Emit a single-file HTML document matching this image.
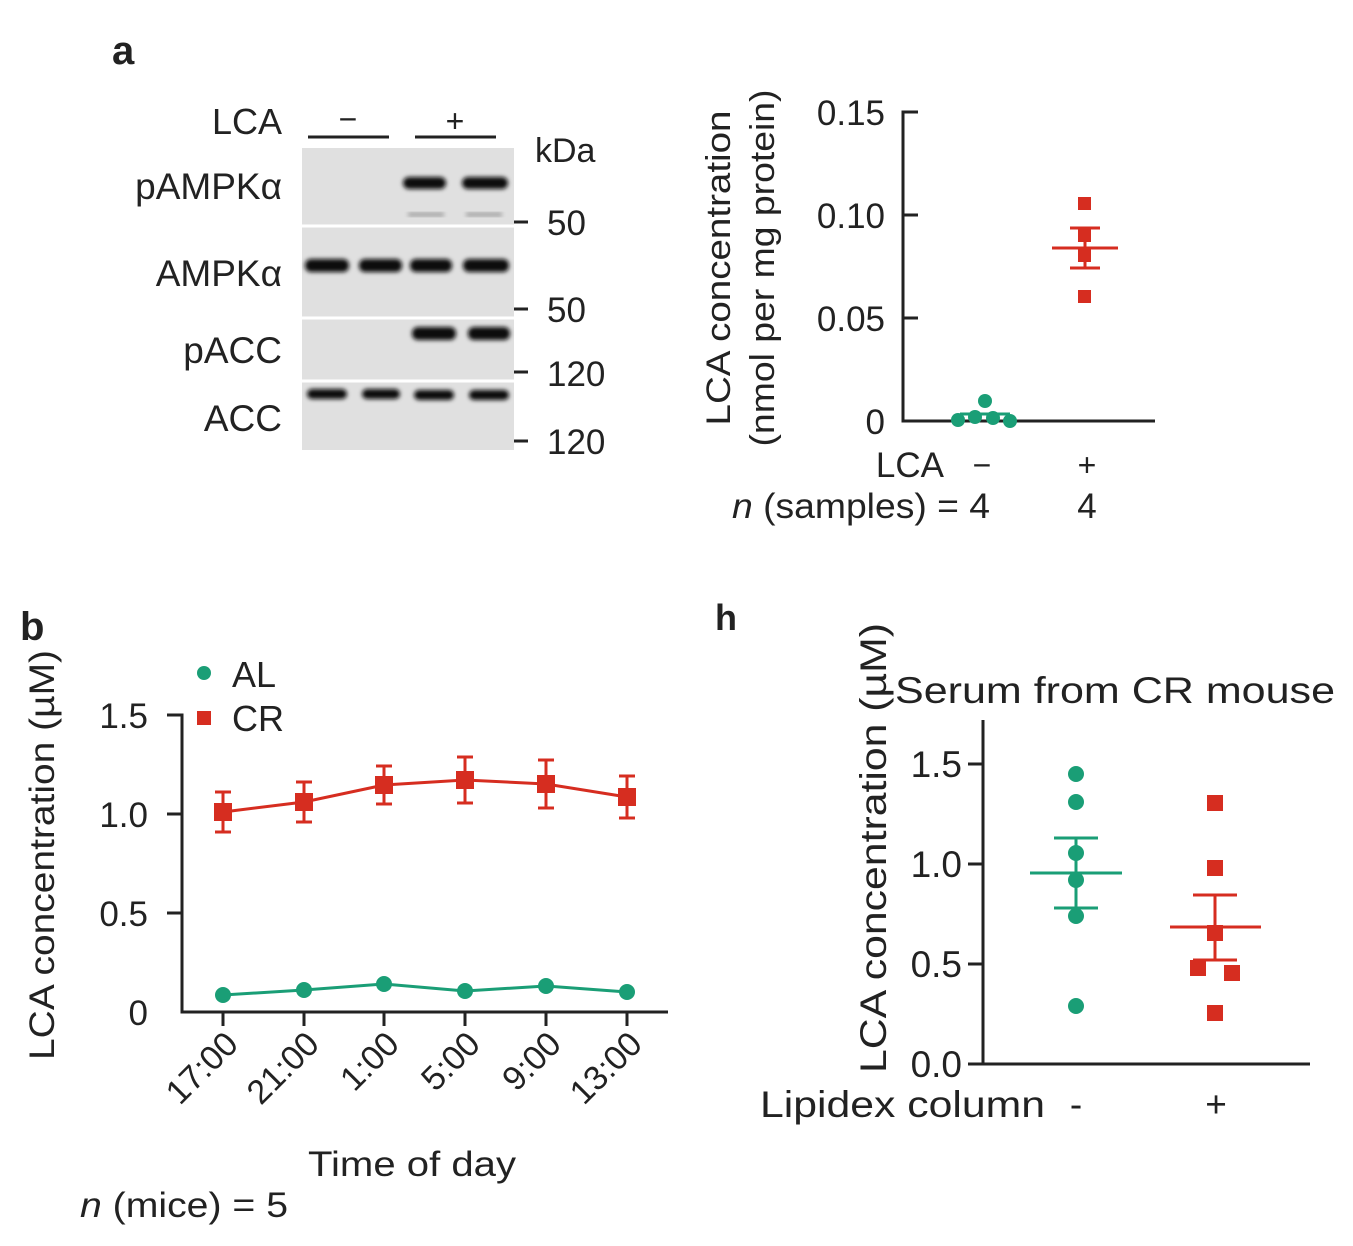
<!DOCTYPE html>
<html><head><meta charset="utf-8"><style>
body{margin:0;background:#fff}
svg text{font-family:"Liberation Sans",sans-serif;fill:#222}
</style></head><body>
<svg width="1353" height="1241" viewBox="0 0 1353 1241" xmlns="http://www.w3.org/2000/svg">
<defs><filter id="bl"><feGaussianBlur stdDeviation="2"/></filter></defs>
<!-- panel a -->
<text x="112" y="64" font-size="40" font-weight="bold" fill="#111">a</text>
<text x="282" y="134" font-size="36" text-anchor="end">LCA</text>
<text x="348" y="130" font-size="32" text-anchor="middle">−</text>
<text x="455" y="132" font-size="32" text-anchor="middle">+</text>
<line x1="308" y1="137" x2="389" y2="137" stroke="#222" stroke-width="3"/>
<line x1="415" y1="137" x2="496" y2="137" stroke="#222" stroke-width="3"/>
<text x="535" y="162" font-size="34">kDa</text>
<text x="282" y="199" font-size="37" text-anchor="end">pAMPKα</text>
<text x="282" y="286" font-size="37" text-anchor="end">AMPKα</text>
<text x="282" y="363" font-size="37" text-anchor="end">pACC</text>
<text x="282" y="431" font-size="37" text-anchor="end">ACC</text>
<rect x="302" y="148" width="212" height="302" fill="#e0e0e0"/>
<g stroke="#fff" stroke-width="3"><line x1="302" y1="226" x2="514" y2="226"/><line x1="302" y1="318" x2="514" y2="318"/><line x1="302" y1="381" x2="514" y2="381"/></g>
<g fill="#111" filter="url(#bl)">
<rect x="403" y="177" width="43" height="12" rx="6"/><rect x="462" y="177" width="46" height="12" rx="6"/>
<rect x="305" y="259" width="44" height="13" rx="6"/><rect x="359" y="259" width="43" height="13" rx="6"/><rect x="410" y="259" width="42" height="13" rx="6"/><rect x="463" y="259" width="46" height="13" rx="6"/>
<rect x="412" y="327" width="44" height="13" rx="6"/><rect x="468" y="327" width="42" height="13" rx="6"/>
<rect x="307" y="389" width="40" height="10" rx="5"/><rect x="362" y="389" width="38" height="10" rx="5"/><rect x="414" y="390" width="40" height="10" rx="5"/><rect x="469" y="390" width="40" height="10" rx="5"/>
</g>
<g fill="#aaa" filter="url(#bl)"><rect x="408" y="212" width="36" height="5"/><rect x="466" y="212" width="36" height="5"/></g>
<g stroke="#222" stroke-width="3"><line x1="514" y1="222" x2="528" y2="222"/><line x1="514" y1="309" x2="528" y2="309"/><line x1="514" y1="372" x2="528" y2="372"/><line x1="514" y1="441" x2="528" y2="441"/></g>
<g font-size="35"><text x="547" y="235">50</text><text x="547" y="322">50</text><text x="547" y="386">120</text><text x="547" y="454">120</text></g>

<!-- top right plot -->
<g stroke="#222" stroke-width="3" fill="none">
<polyline points="918,112 903,112 903,421 1155,421"/>
<line x1="903" y1="215" x2="918" y2="215"/><line x1="903" y1="318" x2="918" y2="318"/>
</g>
<g font-size="35" text-anchor="end"><text x="885" y="125">0.15</text><text x="885" y="228">0.10</text><text x="885" y="331">0.05</text><text x="885" y="434">0</text></g>
<text transform="translate(730,268) rotate(-90)" font-size="34" text-anchor="middle" textLength="315" lengthAdjust="spacingAndGlyphs">LCA concentration</text>
<text transform="translate(774,268) rotate(-90)" font-size="34" text-anchor="middle" textLength="357" lengthAdjust="spacingAndGlyphs">(nmol per mg protein)</text>
<g fill="#1a9e76"><circle cx="958" cy="420" r="7"/><circle cx="975" cy="417" r="7"/><circle cx="985" cy="401" r="7"/><circle cx="993" cy="418" r="7"/><circle cx="1010" cy="421" r="7"/></g>
<line x1="960" y1="414" x2="1010" y2="414" stroke="#1a9e76" stroke-width="3"/>
<g fill="#d62d20"><rect x="1078" y="197" width="13" height="13"/><rect x="1078" y="229" width="13" height="13"/><rect x="1078" y="249" width="13" height="13"/><rect x="1078" y="290" width="13" height="13"/></g>
<g stroke="#d62d20" stroke-width="3"><line x1="1052" y1="248" x2="1118" y2="248"/><line x1="1085" y1="228" x2="1085" y2="268"/><line x1="1070" y1="228" x2="1100" y2="228"/><line x1="1070" y1="268" x2="1100" y2="268"/></g>
<text x="944" y="477" font-size="35" text-anchor="end">LCA</text>
<text x="982" y="476" font-size="32" text-anchor="middle">−</text>
<text x="1087" y="476" font-size="32" text-anchor="middle">+</text>
<text x="990" y="518" font-size="35" text-anchor="end" textLength="258" lengthAdjust="spacingAndGlyphs"><tspan font-style="italic">n</tspan> (samples) = 4</text>
<text x="1087" y="518" font-size="35" text-anchor="middle">4</text>

<!-- panel b -->
<text x="20" y="640" font-size="40" font-weight="bold" fill="#111">b</text>
<circle cx="204" cy="673" r="7" fill="#1a9e76"/><text x="232" y="687" font-size="36">AL</text>
<rect x="197" y="711" width="14" height="14" fill="#d62d20"/><text x="232" y="731" font-size="36">CR</text>
<g stroke="#222" stroke-width="3" fill="none">
<polyline points="167,715 182,715 182,1012 668,1012"/>
<line x1="167" y1="814" x2="182" y2="814"/><line x1="167" y1="913" x2="182" y2="913"/>
<line x1="223" y1="1012" x2="223" y2="1026"/><line x1="304" y1="1012" x2="304" y2="1026"/><line x1="384" y1="1012" x2="384" y2="1026"/><line x1="465" y1="1012" x2="465" y2="1026"/><line x1="546" y1="1012" x2="546" y2="1026"/><line x1="627" y1="1012" x2="627" y2="1026"/>
</g>
<g font-size="35" text-anchor="end"><text x="148" y="728">1.5</text><text x="148" y="827">1.0</text><text x="148" y="926">0.5</text><text x="148" y="1025">0</text></g>
<text transform="translate(54,855) rotate(-90)" font-size="35" text-anchor="middle" textLength="410" lengthAdjust="spacingAndGlyphs">LCA concentration (µM)</text>
<g font-size="34" text-anchor="end">
<text transform="translate(240,1046) rotate(-45)">17:00</text>
<text transform="translate(321,1046) rotate(-45)">21:00</text>
<text transform="translate(401,1046) rotate(-45)">1:00</text>
<text transform="translate(482,1046) rotate(-45)">5:00</text>
<text transform="translate(563,1046) rotate(-45)">9:00</text>
<text transform="translate(644,1046) rotate(-45)">13:00</text>
</g>
<text x="412" y="1176" font-size="35" text-anchor="middle" textLength="208" lengthAdjust="spacingAndGlyphs">Time of day</text>
<text x="80" y="1217" font-size="35" textLength="208" lengthAdjust="spacingAndGlyphs"><tspan font-style="italic">n</tspan> (mice) = 5</text>
<g stroke="#d62d20" stroke-width="3" fill="none">
<polyline points="223,812 304,802 384,785 465,780 546,784 627,797"/>
<path d="M223,792V832M215,792H231M215,832H231 M304,782V822M296,782H312M296,822H312 M384,766V804M376,766H392M376,804H392 M465,757V803M457,757H473M457,803H473 M546,760V808M538,760H554M538,808H554 M627,776V818M619,776H635M619,818H635"/>
</g>
<g fill="#d62d20"><rect x="214" y="803" width="18" height="18"/><rect x="295" y="793" width="18" height="18"/><rect x="375" y="776" width="18" height="18"/><rect x="456" y="771" width="18" height="18"/><rect x="537" y="775" width="18" height="18"/><rect x="618" y="788" width="18" height="18"/></g>
<polyline points="223,995 304,990 384,984 465,991 546,986 627,992" stroke="#1a9e76" stroke-width="3" fill="none"/>
<g fill="#1a9e76"><circle cx="223" cy="995" r="8"/><circle cx="304" cy="990" r="8"/><circle cx="384" cy="984" r="8"/><circle cx="465" cy="991" r="8"/><circle cx="546" cy="986" r="8"/><circle cx="627" cy="992" r="8"/></g>

<!-- panel h -->
<text x="715" y="630" font-size="36" font-weight="bold" fill="#111">h</text>
<text x="895" y="703" font-size="37" textLength="440" lengthAdjust="spacingAndGlyphs">Serum from CR mouse</text>
<text transform="translate(886,848) rotate(-90)" font-size="37" text-anchor="middle" textLength="450" lengthAdjust="spacingAndGlyphs">LCA concentration (µM)</text>
<g stroke="#222" stroke-width="3" fill="none">
<polyline points="983,720 983,1064 1310,1064"/>
<line x1="968" y1="764" x2="983" y2="764"/><line x1="968" y1="864" x2="983" y2="864"/><line x1="968" y1="964" x2="983" y2="964"/><line x1="968" y1="1064" x2="983" y2="1064"/>
</g>
<g font-size="37" text-anchor="end"><text x="962" y="777">1.5</text><text x="962" y="877">1.0</text><text x="962" y="977">0.5</text><text x="962" y="1077">0.0</text></g>
<g fill="#1a9e76"><circle cx="1076" cy="774" r="8"/><circle cx="1076" cy="802" r="8"/><circle cx="1076" cy="853" r="8"/><circle cx="1076" cy="880" r="8"/><circle cx="1076" cy="916" r="8"/><circle cx="1076" cy="1006" r="8"/></g>
<g stroke="#1a9e76" stroke-width="3"><line x1="1030" y1="873" x2="1122" y2="873"/><line x1="1076" y1="838" x2="1076" y2="908"/><line x1="1054" y1="838" x2="1098" y2="838"/><line x1="1054" y1="908" x2="1098" y2="908"/></g>
<g fill="#d62d20"><rect x="1207" y="795" width="16" height="16"/><rect x="1207" y="860" width="16" height="16"/><rect x="1207" y="925" width="16" height="16"/><rect x="1190" y="960" width="16" height="16"/><rect x="1224" y="965" width="16" height="16"/><rect x="1207" y="1005" width="16" height="16"/></g>
<g stroke="#d62d20" stroke-width="3"><line x1="1170" y1="927" x2="1261" y2="927"/><line x1="1215" y1="895" x2="1215" y2="960"/><line x1="1193" y1="895" x2="1237" y2="895"/><line x1="1193" y1="960" x2="1237" y2="960"/></g>
<text x="1045" y="1117" font-size="37" text-anchor="end" textLength="285" lengthAdjust="spacingAndGlyphs">Lipidex column</text>
<text x="1076" y="1117" font-size="37" text-anchor="middle">-</text>
<text x="1216" y="1117" font-size="37" text-anchor="middle">+</text>
</svg>
</body></html>
